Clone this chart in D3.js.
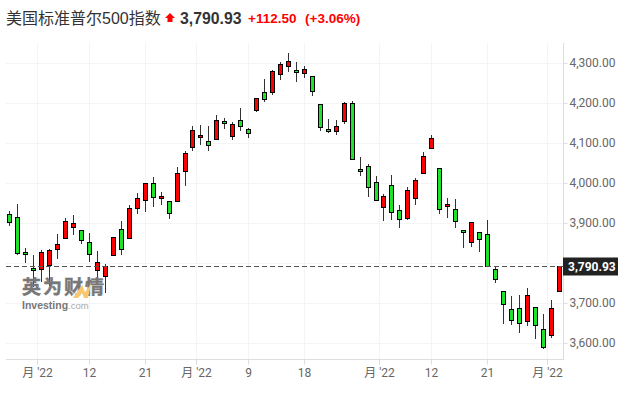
<!DOCTYPE html>
<html>
<head>
<meta charset="utf-8">
<script src="https://cdn.jsdelivr.net/npm/d3@7"></script>
<style>
  html, body { margin: 0; padding: 0; background: #fff; overflow: hidden; }
  svg { display: block; }
</style>
</head>
<body>
<div id="chart"></div>
<script>
// Dimensions
const width = 625;
const height = 394;

// Candles
const opens = [3921.8, 3914.3, 3826.8, 3786.8, 3784.3, 3794.3, 3834.3, 3861.8, 3889.3, 3881.8,
  3851.8, 3781.8, 3766.8, 3819.3, 3884.3, 3861.8, 3936.8, 3956.8, 3999.3, 3961.8,
  3954.3, 3953.3, 4029.3, 4089.3, 4114.3, 4104.3, 4109.3, 4154.3, 4116.8, 4156.8,
  4134.3, 4181.8, 4226.8, 4226.8, 4271.8, 4291.8, 4281.8, 4274.3, 4266.8, 4196.8,
  4134.3, 4129.3, 4154.3, 4199.3, 4034.3, 4041.8, 4001.8, 3939.3, 3994.3, 3931.8,
  3911.8, 3961.8, 4024.3, 4086.8, 4036.8, 3941.8, 3934.3, 3881.8, 3851.8, 3876.8,
  3871.8, 3784.3, 3729.3, 3684.3, 3686.8, 3654.3, 3689.3, 3634.3, 3619.3, 3729.3];
const closes = [3901.8, 3824.3, 3821.8, 3781.8, 3826.8, 3831.8, 3846.8, 3904.3, 3899.3, 3856.8,
  3821.8, 3801.8, 3790.8, 3864.3, 3834.3, 3936.8, 3961.8, 3999.3, 3964.3, 3966.8,
  3924.3, 4024.3, 4074.3, 4131.8, 4119.3, 4094.3, 4156.8, 4149.3, 4146.8, 4141.8,
  4124.3, 4211.8, 4208.3, 4279.3, 4296.8, 4304.3, 4276.8, 4284.3, 4229.3, 4139.3,
  4129.3, 4141.8, 4199.3, 4059.3, 4029.3, 3989.3, 3956.8, 3966.8, 3926.8, 3909.3,
  3981.8, 4006.8, 4066.8, 4111.8, 3934.3, 3946.8, 3904.3, 3876.8, 3901.8, 3859.3,
  3791.8, 3759.3, 3696.8, 3656.8, 3649.3, 3719.3, 3644.3, 3589.3, 3686.8, 3790.93];
const highs = [3928.3, 3945.8, 3836.8, 3818.3, 3830.8, 3834.3, 3871.8, 3911.8, 3919.3, 3882.5,
  3874.3, 3829.3, 3796.8, 3864.3, 3903.3, 3942.5, 3974.3, 3999.3, 4014.3, 3976.8,
  3954.3, 4039.3, 4078.3, 4140.8, 4144.3, 4141.8, 4169.3, 4161.8, 4151.8, 4186.8,
  4136.8, 4211.8, 4259.3, 4280.8, 4301.8, 4324.3, 4301.8, 4291.8, 4266.8, 4196.8,
  4159.3, 4156.8, 4201.8, 4204.3, 4064.3, 4046.8, 4016.8, 3971.8, 4019.3, 3944.3,
  3989.3, 4011.8, 4076.8, 4119.3, 4036.8, 3961.8, 3959.3, 3881.8, 3901.8, 3876.8,
  3906.8, 3791.8, 3729.3, 3716.8, 3719.3, 3736.8, 3689.3, 3671.8, 3706.8, 3790.93];
const lows = [3892.5, 3821.8, 3800.8, 3740.8, 3753.3, 3745, 3811.8, 3861.8, 3871.8, 3849.3,
  3805, 3761.8, 3725.8, 3819.3, 3821.8, 3861.8, 3924.3, 3928.3, 3940.8, 3946.8,
  3911.8, 3953.3, 3993.3, 4082.5, 4096.8, 4081.8, 4109.3, 4136.8, 4109.3, 4131.8,
  4114.3, 4179.3, 4204.3, 4221.8, 4259.3, 4279.3, 4254.3, 4264.3, 4219.3, 4131.8,
  4126.8, 4121.8, 4149.3, 4059.3, 4019.3, 3966.8, 3956.8, 3906.8, 3909.3, 3889.3,
  3909.3, 3946.8, 4024.3, 4086.8, 3924.3, 3914.3, 3889.3, 3839.3, 3841.8, 3829.3,
  3791.8, 3751.8, 3649.3, 3646.8, 3626.8, 3644.3, 3611.8, 3586.8, 3614.3, 3729.3];

// Axis labels
const xTickPositions = [3.5, 10, 17, 23.5, 30, 37, 46.5, 53, 60, 67.5];
const xTickLabels = ["月 '22", "12", "21", "月 '22", "9", "18", "月 '22", "12", "21", "月 '22"];
const yTicks = [3600, 3700, 3800, 3900, 4000, 4100, 4200, 4300];
const yTickShown = [3600, 3700, 3900, 4000, 4100, 4200, 4300]; // 3,800 sits under the price tag

// Header
const titleText = "美国标准普尔500指数";
const lastPrice = 3790.93;
const changeText = "+112.50";
const changePctText = "(+3.06%)";

const plotRight = 563;
const plotBottom = 359;
const plotTop = 43;
const latin = "'Liberation Sans', Arial, 'Noto Sans CJK SC', sans-serif";
const axisFont = "Roboto, 'Noto Sans CJK SC', sans-serif";

const x = d3.scaleLinear().domain([0, 69]).range([9.985, 559.02]);
const y = d3.scaleLinear().domain([3600, 4300]).range([343, 63]);
const snap = v => Math.floor(v);

const svg = d3.select("#chart")
    .append("svg")
    .attr("width", width)
    .attr("height", height);

// Gridlines
const grid = svg.append("g");
grid.selectAll(".gx")
    .data(xTickPositions)
    .join("line")
    .attr("x1", d => snap(x(d)) + 0.5)
    .attr("x2", d => snap(x(d)) + 0.5)
    .attr("y1", plotTop)
    .attr("y2", plotBottom)
    .attr("stroke", "#f3f4f6");
grid.selectAll(".gy")
    .data(yTicks)
    .join("line")
    .attr("x1", 6)
    .attr("x2", plotRight)
    .attr("y1", d => snap(y(d)) + 0.5)
    .attr("y2", d => snap(y(d)) + 0.5)
    .attr("stroke", "#f3f4f6");

// Axes
const xAxis = svg.append("g")
    .attr("transform", `translate(0,${plotBottom + 0.5})`)
    .call(d3.axisBottom(x)
        .tickValues(xTickPositions)
        .tickFormat((d, i) => xTickLabels[i])
        .tickSize(5)
        .tickPadding(4)
        .offset(0));
xAxis.selectAll(".tick").attr("transform", d => `translate(${snap(x(d)) + 0.5},0)`);
xAxis.select(".domain").remove();
xAxis.append("line").attr("x1", 6).attr("x2", plotRight + 1).attr("stroke", "#dcdde0");
xAxis.selectAll(".tick line").attr("stroke", "#dcdde0");
xAxis.selectAll(".tick text")
    .attr("font-family", axisFont)
    .attr("font-size", 12)
    .attr("fill", "#666");

const yAxis = svg.append("g")
    .attr("transform", `translate(${plotRight + 0.5},0)`)
    .call(d3.axisRight(y)
        .tickValues(yTickShown)
        .tickFormat(d3.format(",.2f"))
        .tickSize(4)
        .tickPadding(2));
yAxis.select(".domain").remove();
yAxis.append("line").attr("y1", plotTop).attr("y2", plotBottom).attr("stroke", "#dcdde0");
yAxis.selectAll(".tick line").attr("stroke", "#dcdde0");
yAxis.selectAll(".tick text")
    .attr("font-family", axisFont)
    .attr("font-size", 12)
    .attr("fill", "#666");

// Candles
const candles = svg.append("g")
    .selectAll("g")
    .data(opens.map((o, i) => ({ i, o, c: closes[i], h: highs[i], l: lows[i] })))
    .join("g")
    .attr("transform", d => `translate(${snap(x(d.i))},0)`);

candles.append("line")
    .attr("x1", 0.5)
    .attr("x2", 0.5)
    .attr("y1", d => snap(y(d.h)))
    .attr("y2", d => snap(y(d.l)) + 1)
    .attr("stroke", "#333");

candles.append("rect")
    .attr("x", -1.5)
    .attr("width", 4)
    .attr("y", d => snap(y(Math.max(d.o, d.c))) + 0.5)
    .attr("height", d => Math.max(1, snap(y(Math.min(d.o, d.c))) - snap(y(Math.max(d.o, d.c)))))
    .attr("fill", d => d.c >= d.o ? "#ff0000" : "#1fe32a")
    .attr("stroke", "#000");

// Last price line and tag
const lastY = snap(y(lastPrice)) + 0.5;
svg.append("line")
    .attr("x1", 6)
    .attr("x2", plotRight)
    .attr("y1", lastY)
    .attr("y2", lastY)
    .attr("stroke", "#555")
    .attr("stroke-dasharray", "5,3");
svg.append("rect")
    .attr("x", plotRight)
    .attr("y", lastY - 9)
    .attr("width", 55)
    .attr("height", 18)
    .attr("fill", "#222");
svg.append("text")
    .attr("x", plotRight + 5)
    .attr("y", lastY + 4.5)
    .attr("font-family", axisFont)
    .attr("font-size", 12)
    .attr("font-weight", "bold")
    .attr("fill", "#fff")
    .text(d3.format(",.2f")(lastPrice));

// Watermark
const mark = svg.append("g");
mark.append("text")
    .attr("x", 22)
    .attr("y", 293.5)
    .attr("font-family", "'Noto Sans CJK SC', sans-serif")
    .attr("font-size", 19)
    .attr("font-weight", "bold")
    .attr("letter-spacing", 2)
    .attr("fill", "#777")
    .attr("stroke", "#777")
    .attr("stroke-width", 0.4)
    .text("英为财情");
mark.append("path")
    .attr("d", "M73,298 L82,285 L85,292 L91,284 L88,298 L84,298 L82,293 L78,298 Z")
    .attr("fill", "#fac76e");
mark.append("text")
    .attr("x", 22)
    .attr("y", 308.5)
    .attr("font-family", latin)
    .attr("font-size", 10.5)
    .attr("fill", "#777")
    .call(t => {
        t.append("tspan").attr("font-weight", "bold").text("Investing");
        t.append("tspan").attr("fill", "#aaa").attr("font-size", 9.5).text(".com");
    });

// Header
svg.append("text")
    .attr("x", 6)
    .attr("y", 24)
    .attr("font-family", latin)
    .attr("font-size", 16)
    .attr("fill", "#333")
    .text(titleText);
svg.append("path")
    .attr("d", "M170,13 L175,18 L172.5,18 L172.5,22 L167.5,22 L167.5,18 L165,18 Z")
    .attr("fill", "#f00");
svg.append("text")
    .attr("x", 180)
    .attr("y", 24)
    .attr("font-family", latin)
    .attr("font-size", 15.8)
    .attr("font-weight", "bold")
    .attr("fill", "#333")
    .text(d3.format(",.2f")(lastPrice));
svg.append("text")
    .attr("x", 248)
    .attr("y", 23)
    .attr("font-family", latin)
    .attr("font-size", 13.5)
    .attr("font-weight", "bold")
    .attr("fill", "#f00")
    .text(changeText);
svg.append("text")
    .attr("x", 305)
    .attr("y", 23)
    .attr("font-family", latin)
    .attr("font-size", 13.5)
    .attr("font-weight", "bold")
    .attr("fill", "#f00")
    .text(changePctText);
</script>
</body>
</html>
